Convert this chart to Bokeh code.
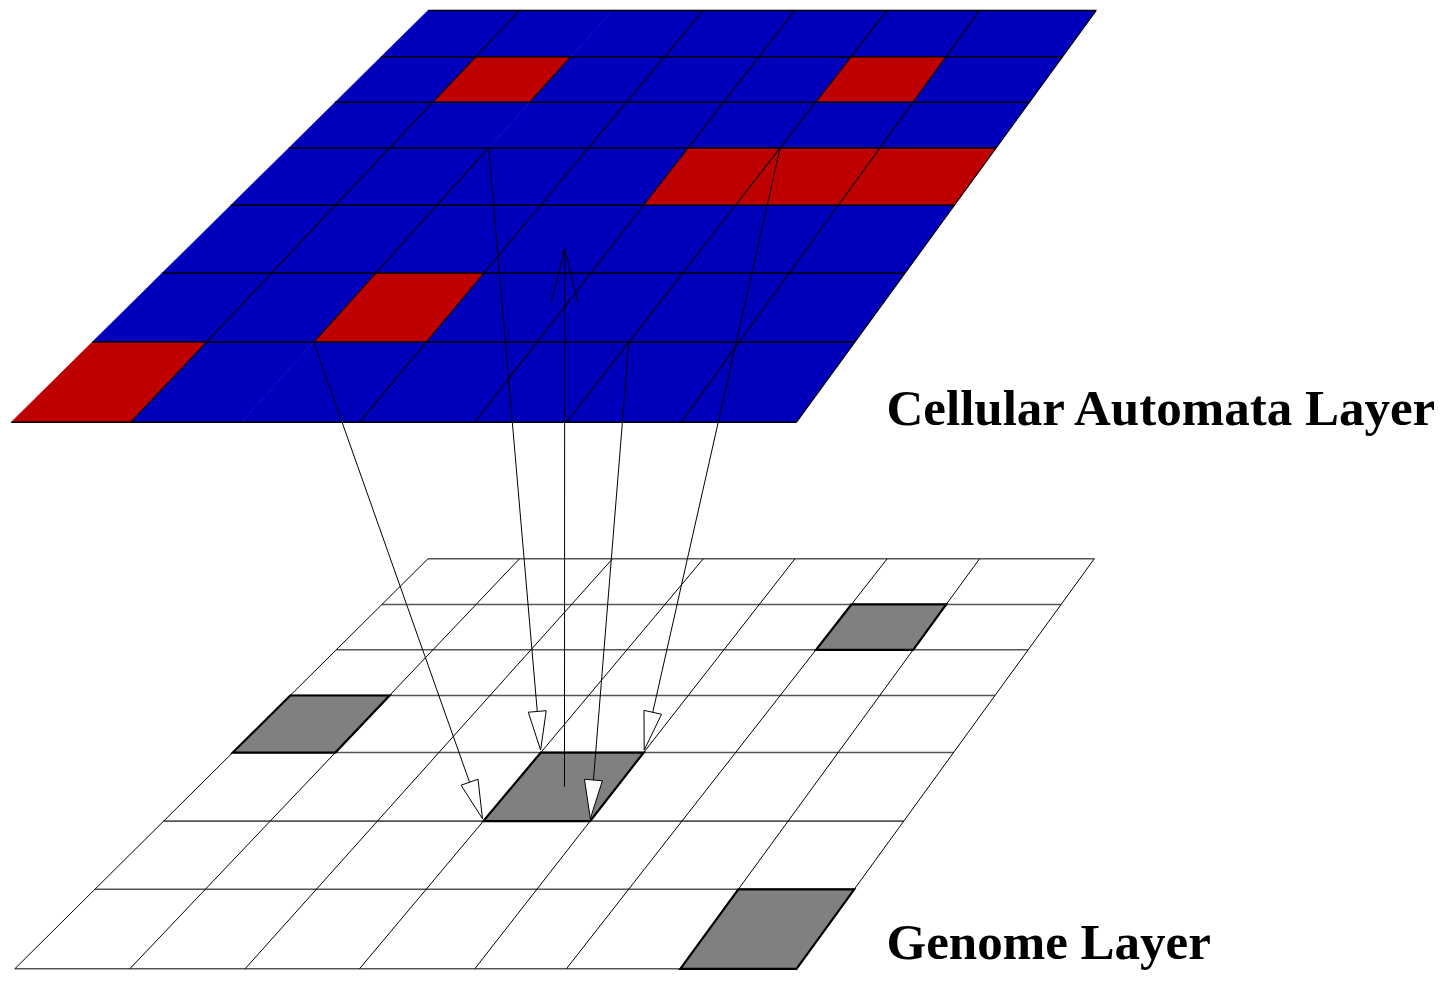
import numpy as np
from bokeh.plotting import figure
from bokeh.models import Range1d
from bokeh.core.properties import value
from bokeh.embed import file_html
from bokeh.resources import INLINE

# ---------------- data (drawing space, pixels) ----------------
# Cellular automata layer: horizontal row lines and the ends of the slanted column lines
CA_ROW_Y = [10.0, 56.7, 102.3, 148.3, 206.0, 274.3, 343.7, 424.3]
CA_TOP_X = [427.5, 519.0, 612.0, 702.8, 794.5, 886.7, 979.1, 1095.7]
CA_BOTTOM_X = [10.7, 130.4, 241.0, 359.0, 474.3, 566.0, 680.6, 796.0]

# Genome layer
GE_ROW_Y = [561.7, 607.7, 653.3, 699.3, 756.7, 825.7, 894.3, 974.3]
GE_TOP_X = [427.5, 519.0, 612.0, 702.8, 794.5, 886.7, 979.1, 1093.8]
GE_BOTTOM_X = [14.3, 129.3, 244.6, 359.0, 474.3, 565.9, 679.8, 796.0]

# cell states (row 0 = far/top row, column 0 = left)
CA_STATE = [
    [0, 0, 0, 0, 0, 0, 0],
    [0, 1, 0, 0, 0, 1, 0],
    [0, 0, 0, 0, 0, 0, 0],
    [0, 0, 0, 0, 1, 1, 1],
    [0, 0, 0, 0, 0, 0, 0],
    [0, 0, 1, 0, 0, 0, 0],
    [1, 0, 0, 0, 0, 0, 0],
]
GE_STATE = [
    [0, 0, 0, 0, 0, 0, 0],
    [0, 0, 0, 0, 0, 1, 0],
    [0, 0, 0, 0, 0, 0, 0],
    [1, 0, 0, 0, 0, 0, 0],
    [0, 0, 0, 1, 0, 0, 0],
    [0, 0, 0, 0, 0, 0, 0],
    [0, 0, 0, 0, 0, 0, 1],
]
# (row, column line) segments of the CA grid that are not drawn
CA_MISSING = [(0, 2), (2, 2), (6, 2)]

# arrows from CA grid vertex (row line, column line) to genome grid vertex
DOWN_ARROWS = [((6, 2), (5, 3)), ((3, 2), (4, 3)), ((3, 5), (4, 4)), ((6, 5), (5, 4))]
UP_ARROW_CELL = (4, 3)  # from the genome cell centre up to the CA cell

LABELS = ["Cellular Automata Layer", "Genome Layer"]
LABEL_X = 886
LABEL_BASELINE = [410.0, 947.0]

# ---------------- styles ----------------
CA_BLUE = "#0000BC"
CA_RED = "#BE0000"
GE_GRAY = "#808080"
FONT = "Liberation Serif"


def grid_pt(top_x, bot_x, row_y, r, c):
    y = row_y[r]
    t = (y - row_y[0]) / (row_y[-1] - row_y[0])
    return top_x[c] + (bot_x[c] - top_x[c]) * t, y


def cell_poly(layer, r, c):
    pts = [grid_pt(*layer, r, c), grid_pt(*layer, r, c + 1),
           grid_pt(*layer, r + 1, c + 1), grid_pt(*layer, r + 1, c)]
    return [p[0] for p in pts], [p[1] for p in pts]


def cell_center(layer, r, c):
    xs, ys = cell_poly(layer, r, c)
    return float(np.mean(xs)), float(np.mean(ys))


CA = (CA_TOP_X, CA_BOTTOM_X, CA_ROW_Y)
GE = (GE_TOP_X, GE_BOTTOM_X, GE_ROW_Y)
NR = len(CA_ROW_Y) - 1
NC = len(CA_TOP_X) - 1

p = figure(width=1434, height=970, x_range=Range1d(0, 1434), y_range=Range1d(976, 0),
           output_backend="svg", toolbar_location=None, min_border=0,
           x_axis_location=None, y_axis_location=None)
p.grid.visible = False
p.outline_line_color = None
p.background_fill_color = "white"

# ---- CA layer ----
xs, ys = [], []
cols = []
for r in range(NR):
    for c in range(NC):
        cx, cy = cell_poly(CA, r, c)
        xs.append(cx); ys.append(cy)
        cols.append(CA_RED if CA_STATE[r][c] else CA_BLUE)
p.patches(xs, ys, fill_color=cols, line_color=cols, line_width=0.6)

hx, hy = [], []
for r in range(NR + 1):
    a = grid_pt(*CA, r, 0); b = grid_pt(*CA, r, NC)
    hx.append([a[0], b[0]]); hy.append([a[1], b[1]])
p.multi_line(hx, hy, line_color="black", line_width=1.5)

vx, vy = [], []
for r in range(NR):
    for c in range(1, NC + 1):
        if (r, c) in CA_MISSING:
            continue
        a = grid_pt(*CA, r, c); b = grid_pt(*CA, r + 1, c)
        vx.append([a[0], b[0]]); vy.append([a[1], b[1]])
p.multi_line(vx, vy, line_color="black", line_width=1.1)

# ---- Genome layer ----
hx, hy = [], []
for r in range(NR + 1):
    a = grid_pt(*GE, r, 0); b = grid_pt(*GE, r, NC)
    hx.append([a[0], b[0]]); hy.append([a[1], b[1]])
p.multi_line(hx, hy, line_color="#555555", line_width=1.6)

vx, vy = [], []
for c in range(NC + 1):
    a = grid_pt(*GE, 0, c); b = grid_pt(*GE, NR, c)
    vx.append([a[0], b[0]]); vy.append([a[1], b[1]])
p.multi_line(vx, vy, line_color="black", line_width=1.0)

gx, gy = [], []
for r in range(NR):
    for c in range(NC):
        if GE_STATE[r][c]:
            cx, cy = cell_poly(GE, r, c)
            gx.append(cx); gy.append(cy)
p.patches(gx, gy, fill_color=GE_GRAY, line_color="black", line_width=2.2, line_join="miter")

# ---- arrows ----
HEAD_LEN, HEAD_W, TIP_GAP = 39.0, 18.0, 2.5
lx, ly, tx, ty = [], [], [], []
for (sr, sc), (er, ec) in DOWN_ARROWS:
    s = np.array(grid_pt(*CA, sr, sc)); e = np.array(grid_pt(*GE, er, ec))
    d = (e - s) / np.linalg.norm(e - s)
    n = np.array([-d[1], d[0]])
    tip = e - d * TIP_GAP
    base = tip - d * HEAD_LEN
    lx.append([s[0], base[0]]); ly.append([s[1], base[1]])
    b1 = base + n * HEAD_W / 2; b2 = base - n * HEAD_W / 2
    tx.append([b1[0], tip[0], b2[0]]); ty.append([b1[1], tip[1], b2[1]])

# upward arrow with an open (stick) head
STICK_LEN, STICK_W, STICK_GAP = 54.0, 27.0, 10.0
s = np.array(cell_center(GE, *UP_ARROW_CELL)); e = np.array(cell_center(CA, *UP_ARROW_CELL))
d = (e - s) / np.linalg.norm(e - s)
n = np.array([-d[1], d[0]])
tip = e - d * STICK_GAP
base = tip - d * STICK_LEN
lx.append([s[0], tip[0]]); ly.append([s[1], tip[1]])
b1 = base + n * STICK_W / 2; b2 = base - n * STICK_W / 2

p.multi_line(lx, ly, line_color="black", line_width=1.0)
p.line([b1[0], tip[0], b2[0]], [b1[1], tip[1], b2[1]], line_color="black", line_width=1.0)
p.patches(tx, ty, fill_color="white", line_color="black", line_width=1.0, line_join="miter")

# ---- labels ----
p.text(x=[LABEL_X, LABEL_X], y=LABEL_BASELINE, text=LABELS,
       text_font=value(FONT), text_font_style="bold", text_font_size="51px",
       text_color="black", text_baseline="alphabetic", text_align="left")

open("out.html", "w").write(file_html(p, INLINE))
